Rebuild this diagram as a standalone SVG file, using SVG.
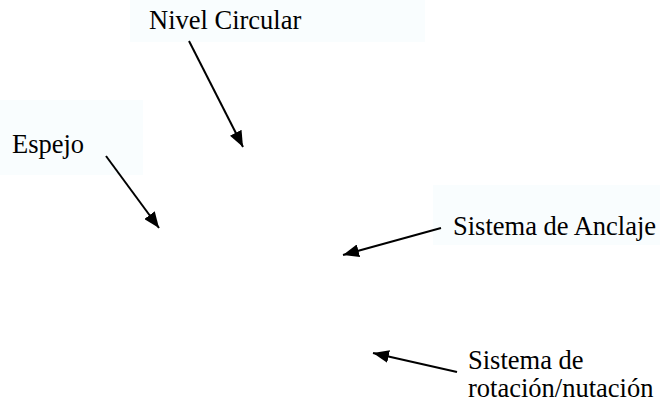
<svg xmlns="http://www.w3.org/2000/svg" width="660" height="402" viewBox="0 0 660 402">
  <style>
    .bg { fill: #f9fdfe; stroke: none; }
    .lbl { font-family: "Liberation Serif", "Times New Roman", serif; font-size: 26.5px; fill: #000; }
    .arrow { stroke: #000; stroke-width: 2; fill: none; marker-end: url(#head); }
  </style>
  <defs>
    <marker id="head" markerUnits="userSpaceOnUse" markerWidth="16" markerHeight="13" refX="16" refY="6.5" orient="auto">
      <path d="M0,0 L16,6.5 L0,13 z" fill="#000"/>
    </marker>
  </defs>
  <rect width="660" height="402" fill="#fff"/>
  <g id="nivel">
    <rect class="bg" x="130" y="0" width="295" height="42"/>
    <text class="lbl" x="149" y="29">Nivel Circular</text>
  </g>
  <g id="espejo">
    <rect class="bg" x="0" y="100" width="143" height="75"/>
    <text class="lbl" x="12" y="153">Espejo</text>
  </g>
  <g id="anclaje">
    <rect class="bg" x="433" y="185" width="227" height="60"/>
    <text class="lbl" x="453" y="235">Sistema de Anclaje</text>
  </g>
  <g id="rotacion">
    <text class="lbl" x="468" y="369">Sistema de</text>
    <text class="lbl" x="468" y="397">rotación/nutación</text>
  </g>
  <g id="connectors">
    <line class="arrow" x1="189" y1="41" x2="243" y2="147"/>
    <line class="arrow" x1="106" y1="156" x2="159" y2="228"/>
    <line class="arrow" x1="441" y1="228" x2="343" y2="255"/>
    <line class="arrow" x1="457" y1="372" x2="373" y2="353"/>
  </g>
</svg>
